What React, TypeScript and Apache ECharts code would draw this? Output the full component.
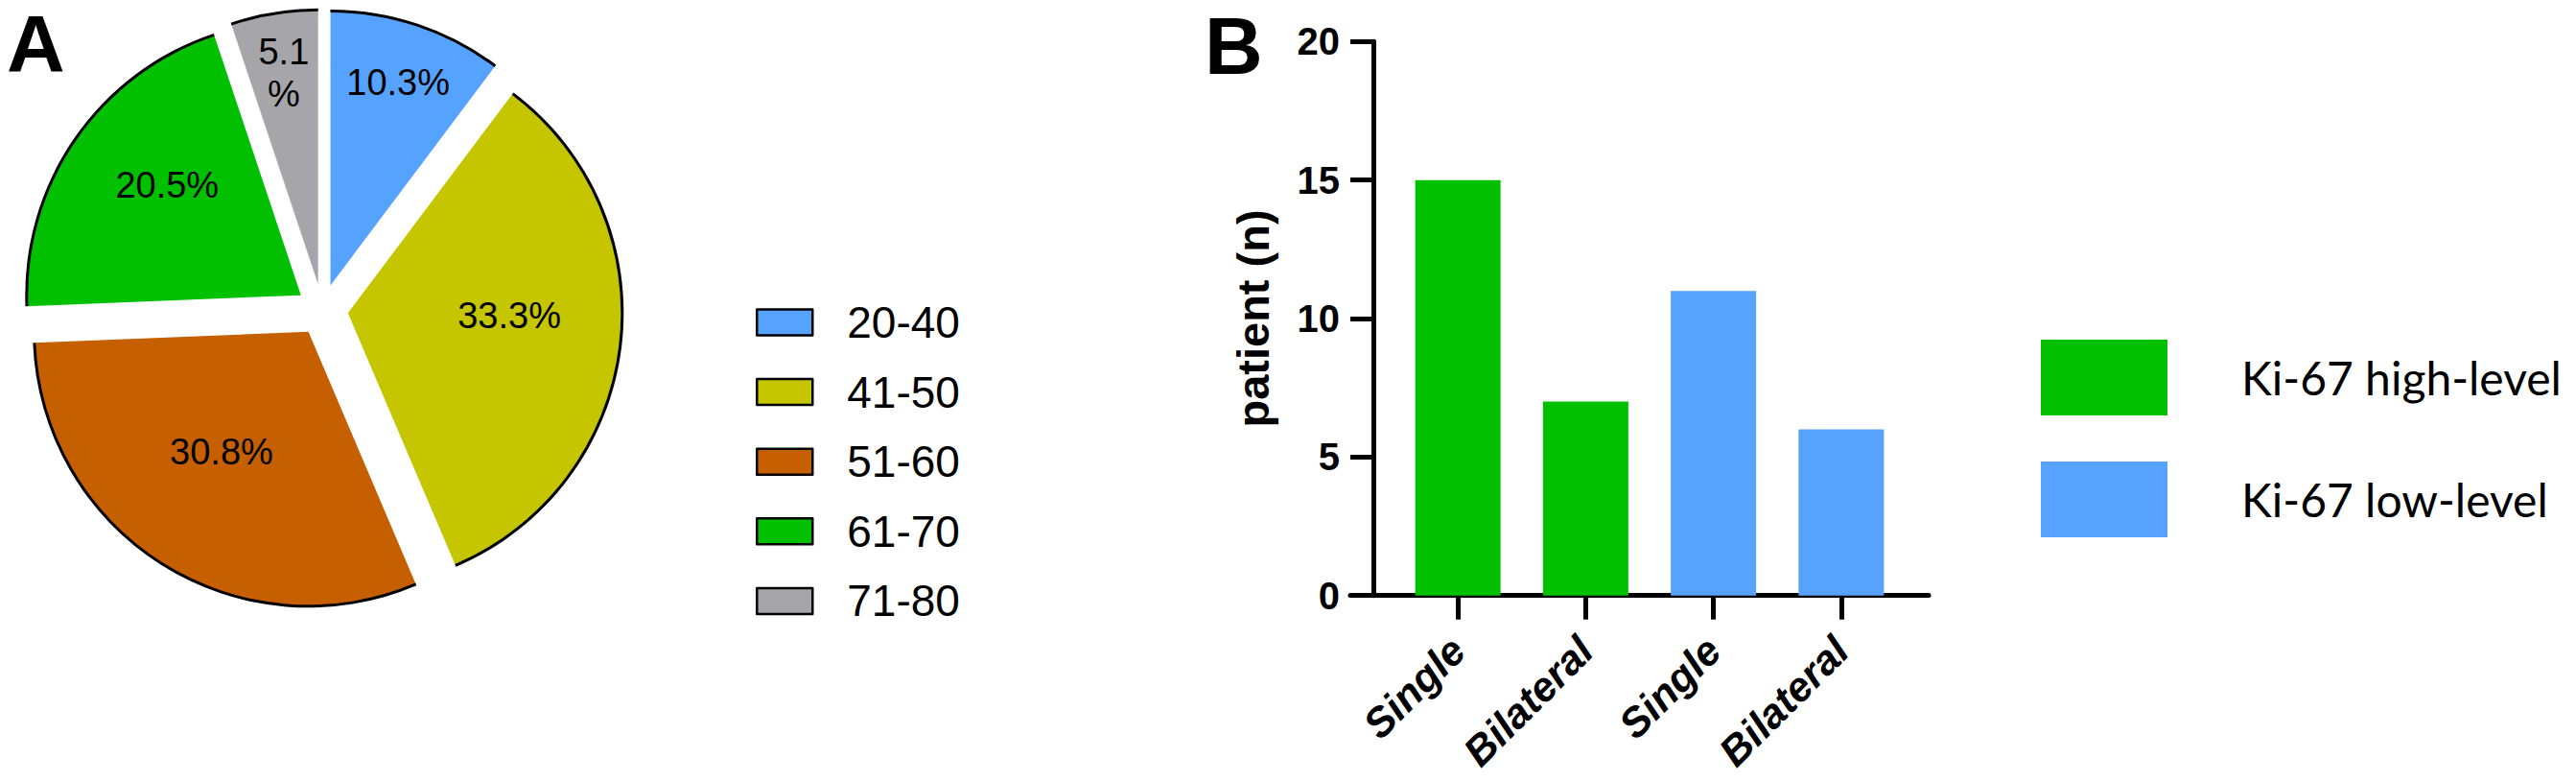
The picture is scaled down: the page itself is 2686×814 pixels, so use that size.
import React, { useEffect, useRef } from "react";
import * as echarts from "echarts";

// ---------- data ----------
const ageGroups = ["20-40", "41-50", "51-60", "61-70", "71-80"];
const ageCounts = [4, 13, 12, 8, 2];

const ki67Categories = ["Single", "Bilateral", "Single", "Bilateral"];
const ki67Groups = ["Ki-67 high-level", "Ki-67 low-level"];
const highLevelCounts = [15, 7]; // Single, Bilateral
const lowLevelCounts = [11, 6]; // Single, Bilateral

const yMin = 0;
const yMax = 20;
const yStep = 5;

// ---------- styles ----------
const AGE_COLORS = ["#56A3FF", "#C5C500", "#C55F00", "#00C000", "#A6A6AA"];
const BAR_COLORS = ["#00C000", "#56A2FD"];
const SANS = "'Liberation Sans', Arial, Helvetica, sans-serif";
const LEGEND_B_FONT = "Lato, 'Open Sans', sans-serif";

const PIE_CENTER = [336, 323];
const INNER_LABEL_CENTER = [336, 305];
const PIE_R = 286;
const EXPLODE = 27;
const OUTER_LABEL_SLICES = [0, 4];

function pctLabel(p: any) {
  const s = Number(p.percent).toFixed(1);
  return p.percent < 8 ? s + "\n%" : s + "%";
}

function sliceData(labelFilter?: (i: number) => boolean) {
  return ageCounts.map((v, i) => ({
    value: v,
    name: ageGroups[i],
    selected: true,
    label: { show: labelFilter ? labelFilter(i) : false },
  }));
}

const basePie = {
  type: "pie",
  center: PIE_CENTER,
  startAngle: 90,
  clockwise: true,
  selectedMode: "multiple",
  selectedOffset: EXPLODE,
  silent: true,
  avoidLabelOverlap: false,
  labelLine: { show: false },
  emphasis: { disabled: true },
};

const labelStyle = {
  position: "inside",
  formatter: pctLabel,
  color: "#000",
  fontFamily: SANS,
  fontSize: 38,
  lineHeight: 44,
};

export default function App() {
  const ref = useRef<HTMLDivElement>(null);

  useEffect(() => {
    document.body.style.margin = "0";
    document.body.style.overflow = "hidden";
    if (!ref.current) return;
    const chart = echarts.init(ref.current, undefined, { renderer: "svg" });

    const option: any = {
      animation: false,
      backgroundColor: "#fff",
      graphic: [
        {
          type: "text",
          x: 7,
          y: 4,
          style: {
            text: "A",
            font: `bold 84px ${SANS}`,
            fill: "#000",
            verticalAlign: "top",
          },
        },
        {
          type: "text",
          x: 1256,
          y: 6,
          style: {
            text: "B",
            font: `bold 84px ${SANS}`,
            fill: "#000",
            verticalAlign: "top",
          },
        },
      ],
      legend: [
        {
          data: ageGroups,
          orient: "vertical",
          left: 783,
          top: 308,
          icon: "rect",
          itemWidth: 58,
          itemHeight: 27,
          itemGap: 26.6,
          selectedMode: false,
          itemStyle: { borderColor: "#000", borderWidth: 2.5 },
          textStyle: {
            fontFamily: SANS,
            fontSize: 46,
            lineHeight: 46,
            color: "#000",
            padding: [0, 0, 0, 31],
          },
        },
        {
          data: ki67Groups,
          orient: "vertical",
          left: 2123,
          top: 349,
          icon: "rect",
          itemWidth: 132,
          itemHeight: 79,
          itemGap: 48,
          selectedMode: false,
          itemStyle: { borderWidth: 0 },
          textStyle: {
            fontFamily: LEGEND_B_FONT,
            fontSize: 48,
            color: "#000",
            padding: [0, 0, 18, 72],
          },
        },
      ],
      grid: [
        { left: 1453.5, top: 43.3, width: 533, height: 577.4, containLabel: false },
        { left: 1408, top: 43.3, width: 603, height: 577.4, containLabel: false },
      ],
      xAxis: [
        {
          gridIndex: 0,
          type: "category",
          data: ki67Categories,
          axisLine: { show: false, onZero: false },
          axisTick: {
            show: true,
            alignWithLabel: true,
            length: 25,
            lineStyle: { width: 5, color: "#000" },
          },
          axisLabel: {
            interval: 0,
            rotate: 45,
            margin: 50,
            color: "#000",
            fontFamily: SANS,
            fontWeight: "bold",
            fontStyle: "italic",
            fontSize: 43,
          },
          splitLine: { show: false },
        },
        {
          gridIndex: 1,
          type: "value",
          min: 0,
          max: 1,
          axisLine: { show: true, onZero: false, lineStyle: { width: 5, color: "#000" } },
          axisTick: { show: false },
          axisLabel: { show: false },
          splitLine: { show: false },
        },
      ],
      yAxis: [
        {
          gridIndex: 0,
          type: "value",
          min: yMin,
          max: yMax,
          interval: yStep,
          offset: 21.5,
          axisLine: { show: true, onZero: false, lineStyle: { width: 5, color: "#000" } },
          axisTick: { show: true, length: 24, lineStyle: { width: 5, color: "#000" } },
          axisLabel: {
            margin: 35,
            color: "#000",
            fontFamily: SANS,
            fontWeight: "bold",
            fontSize: 40,
          },
          splitLine: { show: false },
          name: "patient (n)",
          nameLocation: "middle",
          nameGap: 102,
          nameTextStyle: {
            color: "#000",
            fontFamily: SANS,
            fontWeight: "bold",
            fontSize: 47,
          },
        },
        { gridIndex: 1, type: "value", show: false, min: 0, max: 1 },
      ],
      series: [
        {
          ...basePie,
          name: "age",
          radius: PIE_R,
          label: { show: false },
          data: ageCounts.map((v, i) => ({
            value: v,
            name: ageGroups[i],
            selected: true,
            itemStyle: { color: AGE_COLORS[i], borderWidth: 0 },
          })),
        },
        {
          ...basePie,
          name: "age-outline",
          radius: [PIE_R - 1.5, PIE_R + 1.5],
          label: { show: false },
          itemStyle: { color: "#000", borderWidth: 0 },
          data: sliceData(),
        },
        {
          ...basePie,
          name: "age-labels-outer",
          radius: [153, PIE_R + 1],
          itemStyle: { color: "rgba(0,0,0,0)", borderWidth: 0 },
          label: labelStyle,
          data: sliceData((i) => OUTER_LABEL_SLICES.includes(i)),
        },
        {
          ...basePie,
          name: "age-labels-inner",
          center: INNER_LABEL_CENTER,
          radius: [46, PIE_R + 1],
          itemStyle: { color: "rgba(0,0,0,0)", borderWidth: 0 },
          label: labelStyle,
          data: sliceData((i) => !OUTER_LABEL_SLICES.includes(i)),
        },
        {
          type: "bar",
          name: ki67Groups[0],
          xAxisIndex: 0,
          yAxisIndex: 0,
          barWidth: 89,
          barGap: "-100%",
          itemStyle: { color: BAR_COLORS[0] },
          silent: true,
          data: highLevelCounts.map((v, i) => [i, v]),
        },
        {
          type: "bar",
          name: ki67Groups[1],
          xAxisIndex: 0,
          yAxisIndex: 0,
          barWidth: 89,
          barGap: "-100%",
          itemStyle: { color: BAR_COLORS[1] },
          silent: true,
          data: lowLevelCounts.map((v, i) => [i + highLevelCounts.length, v]),
        },
      ],
    };

    chart.setOption(option);
    return () => chart.dispose();
  }, []);

  return <div ref={ref} style={{ width: 2686, height: 814 }} />;
}
